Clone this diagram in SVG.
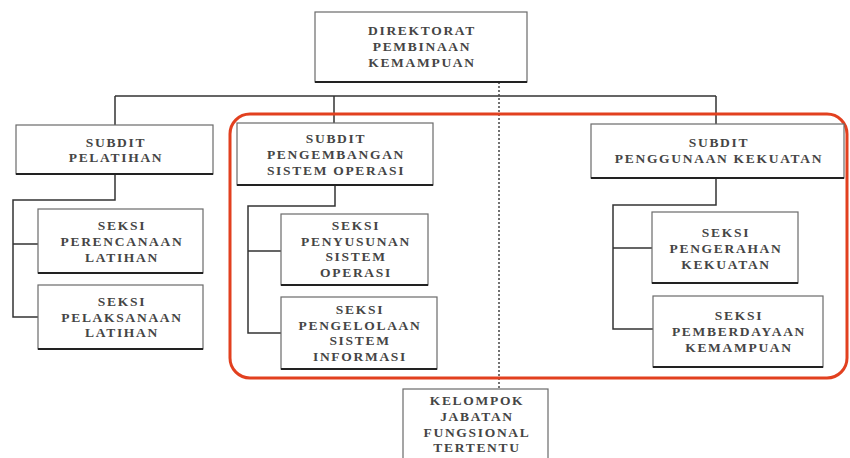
<svg xmlns="http://www.w3.org/2000/svg" width="850" height="458" viewBox="0 0 850 458">
<style>
.box{fill:#fff;stroke:#6a6a6a;stroke-width:1.2}
.shade{stroke:#222;stroke-width:2}
.t{font-family:"Liberation Serif","Times New Roman",serif;font-size:13.5px;font-weight:bold;fill:#454545;text-anchor:middle;letter-spacing:1.7px}
.c{fill:none;stroke:#333;stroke-width:1.5}
.dot{fill:none;stroke:#444;stroke-width:1.5;stroke-dasharray:2 2}
.frame{fill:none;stroke:#e2401f;stroke-width:3}
</style>
<rect width="850" height="458" fill="#fff"/>
<g id="connectors">
<path class="c" d="M115 96H716M115 96V125M334 96V123M716 96V124"/>
<path class="c" d="M115 174V200H13V317H38M13 244H38"/>
<path class="c" d="M335 185V206H248V333H281M248 251H281"/>
<path class="c" d="M716 178V205H613V329H653M613 248H652"/>
<path class="dot" d="M499 82V389"/>
</g>
<g id="frame"><rect class="frame" x="230" y="114" width="617" height="264" rx="20"/></g>
<g id="direktorat">
<rect class="box" x="315" y="12" width="212" height="70"/><line class="shade" x1="315" y1="82" x2="527" y2="82"/>
<text class="t" x="422" y="35">DIREKTORAT</text><text class="t" x="422" y="51">PEMBINAAN</text><text class="t" x="422" y="67">KEMAMPUAN</text>
</g>
<g id="subdit-pelatihan">
<rect class="box" x="16" y="125" width="197" height="49"/><line class="shade" x1="16" y1="174" x2="213" y2="174"/>
<text class="t" x="116" y="147">SUBDIT</text><text class="t" x="116" y="162">PELATIHAN</text>
</g>
<g id="seksi-perencanaan">
<rect class="box" x="38" y="209" width="165" height="64"/><line class="shade" x1="38" y1="273" x2="203" y2="273"/>
<text class="t" x="122" y="230">SEKSI</text><text class="t" x="122" y="246">PERENCANAAN</text><text class="t" x="122" y="262">LATIHAN</text>
</g>
<g id="seksi-pelaksanaan">
<rect class="box" x="38" y="285" width="165" height="64"/><line class="shade" x1="38" y1="349" x2="203" y2="349"/>
<text class="t" x="122" y="306">SEKSI</text><text class="t" x="122" y="322">PELAKSANAAN</text><text class="t" x="122" y="337">LATIHAN</text>
</g>
<g id="subdit-pengembangan">
<rect class="box" x="237" y="123" width="196" height="62"/><line class="shade" x1="237" y1="185" x2="433" y2="185"/>
<text class="t" x="336" y="143">SUBDIT</text><text class="t" x="336" y="159">PENGEMBANGAN</text><text class="t" x="336" y="175">SISTEM OPERASI</text>
</g>
<g id="seksi-penyusunan">
<rect class="box" x="281" y="214" width="147" height="71"/><line class="shade" x1="281" y1="285" x2="428" y2="285"/>
<text class="t" x="356" y="230">SEKSI</text><text class="t" x="356" y="246">PENYUSUNAN</text><text class="t" x="356" y="261">SISTEM</text><text class="t" x="356" y="277">OPERASI</text>
</g>
<g id="seksi-pengelolaan">
<rect class="box" x="281" y="297" width="156" height="72"/><line class="shade" x1="281" y1="369" x2="437" y2="369"/>
<text class="t" x="360" y="314">SEKSI</text><text class="t" x="360" y="330">PENGELOLAAN</text><text class="t" x="360" y="345">SISTEM</text><text class="t" x="360" y="361">INFORMASI</text>
</g>
<g id="subdit-penggunaan">
<rect class="box" x="591" y="124" width="253" height="54"/><line class="shade" x1="591" y1="178" x2="844" y2="178"/>
<text class="t" x="719" y="147">SUBDIT</text><text class="t" x="719" y="163">PENGGUNAAN KEKUATAN</text>
</g>
<g id="seksi-pengerahan">
<rect class="box" x="652" y="212" width="146" height="71"/><line class="shade" x1="652" y1="283" x2="798" y2="283"/>
<text class="t" x="726" y="237">SEKSI</text><text class="t" x="726" y="253">PENGERAHAN</text><text class="t" x="726" y="269">KEKUATAN</text>
</g>
<g id="seksi-pemberdayaan">
<rect class="box" x="653" y="296" width="170" height="71"/><line class="shade" x1="653" y1="367" x2="823" y2="367"/>
<text class="t" x="739" y="320">SEKSI</text><text class="t" x="739" y="336">PEMBERDAYAAN</text><text class="t" x="739" y="352">KEMAMPUAN</text>
</g>
<g id="kelompok">
<rect class="box" x="403" y="389" width="145" height="75"/>
<text class="t" x="477" y="405">KELOMPOK</text><text class="t" x="477" y="421">JABATAN</text><text class="t" x="477" y="437">FUNGSIONAL</text><text class="t" x="477" y="452">TERTENTU</text>
</g>
</svg>
